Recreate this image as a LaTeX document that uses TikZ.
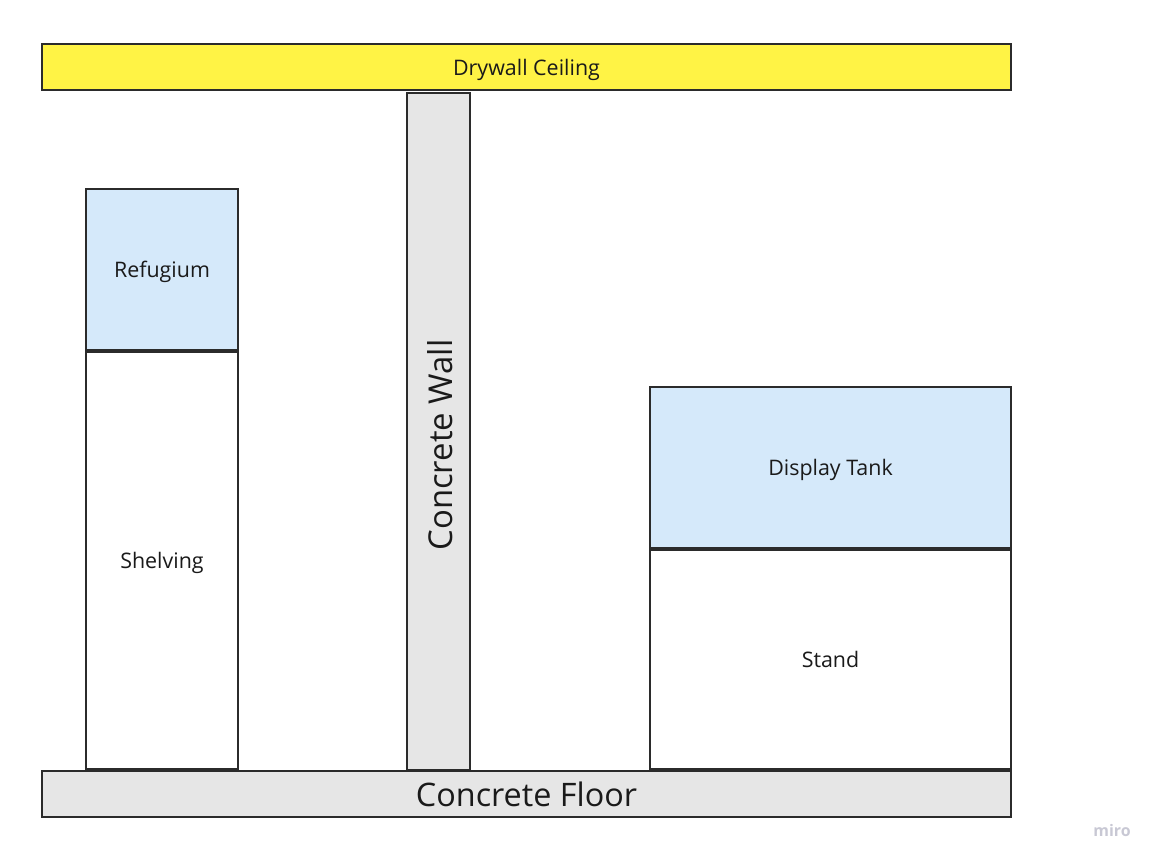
\documentclass[tikz,border=0pt]{standalone}
\usepackage{fontspec}
\setmainfont{Open Sans}
\definecolor{ceilyellow}{RGB}{255,243,69}
\definecolor{tankblue}{RGB}{213,233,250}
\definecolor{concrete}{RGB}{230,230,230}
\definecolor{edgegray}{RGB}{43,43,43}
\definecolor{inkgray}{RGB}{26,26,26}
\definecolor{markgray}{RGB}{200,200,212}

\begin{document}
\begin{tikzpicture}[x=1bp,y=-1bp]
\tikzset{
  part/.style={rectangle,draw=edgegray,line width=1.8bp,inner sep=0pt,text=inkgray,
    text height=23bp,text depth=6.3bp,font=\fontsize{21.5}{26}\selectfont},
  bigtext/.style={text=inkgray,inner sep=0pt,text height=35bp,text depth=9.6bp,
    font=\fontsize{32.5}{38}\selectfont}
}
\useasboundingbox (0,0) rectangle (1157,863);
\node[part,fill=ceilyellow,minimum width=969bp,minimum height=46bp] (n_ceiling) at (526.5,67.0) {Drywall Ceiling};
\node[part,fill=concrete,minimum width=63bp,minimum height=677bp] (n_wall) at (438.5,431.5) {};
\node[bigtext,rotate=90,font=\fontsize{33}{38}\selectfont] (n_walllabel) at (439.5,445.0) {Concrete Wall};
\node[part,fill=tankblue,minimum width=152bp,minimum height=161bp] (n_refugium) at (162.0,269.5) {Refugium};
\node[part,fill=white,minimum width=152bp,minimum height=417bp] (n_shelving) at (162.0,560.5) {Shelving};
\node[part,fill=tankblue,minimum width=361bp,minimum height=161bp] (n_tank) at (830.5,467.5) {Display Tank};
\node[part,fill=white,minimum width=361bp,minimum height=219bp] (n_stand) at (830.5,659.5) {Stand};
\node[part,fill=concrete,minimum width=969bp,minimum height=46bp,text height=35bp,text depth=9.6bp,
  font=\fontsize{32.5}{38}\selectfont] (n_floor) at (526.5,794.0) {Concrete Floor};
\node[text=markgray,font=\fontsize{16}{19}\selectfont\bfseries] (n_miro) at (1112.0,831.0) {miro};
\end{tikzpicture}
\end{document}
